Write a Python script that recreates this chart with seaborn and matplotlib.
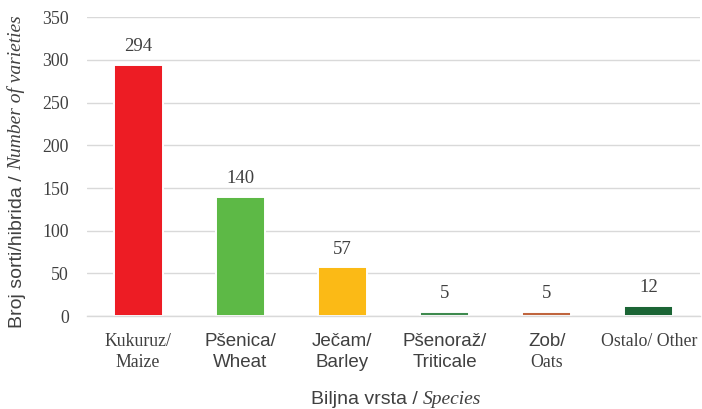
import numpy as np
import pandas as pd
import matplotlib
matplotlib.use("Agg")
import matplotlib.pyplot as plt
import matplotlib.transforms as mtransforms
import seaborn as sns

# data
species_top = ["Kukuruz/", "Pšenica/", "Ječam/", "Pšenoraž/", "Zob/", "Ostalo/ Other"]
species_bottom = ["Maize", "Wheat", "Barley", "Triticale", "Oats", ""]
counts = [294, 140, 57, 5, 5, 12]
bar_colors = ["#ED1C24", "#5DB946", "#FBBA16", "#3E8A4E", "#C0653E", "#1B6535"]
# which font each label line uses in the original (serif = Times-like)
top_font = ["serif", "sans", "sans", "sans", "sans", "serif"]
bottom_font = ["serif", "sans", "sans", "sans", "serif", "serif"]

SANS = "Liberation Sans"
SERIF = "Liberation Serif"
TXT = "#404040"
GRID = "#D9D9D9"

df = pd.DataFrame({"species": [a + b for a, b in zip(species_top, species_bottom)],
                   "count": counts})

sns.set_theme(style="white")
plt.rcParams["font.family"] = [SERIF, "DejaVu Serif"]

fig = plt.figure(figsize=(7.02, 4.09), dpi=100)
ax = fig.add_axes([0.124, 0.227, 0.873, 0.731])

sns.barplot(data=df, x="species", y="count", hue="species",
            palette=dict(zip(df["species"], bar_colors)), legend=False,
            width=0.48, edgecolor="white", linewidth=1.4, saturation=1, ax=ax)

for cont in ax.containers:
    ax.bar_label(cont, padding=7, fontsize=13.5, color=TXT, family=SERIF)

ax.set_ylim(0, 350)
ax.set_yticks(np.arange(0, 351, 50))
ax.set_xlim(-0.5, len(counts) - 0.5)
ax.yaxis.grid(True, color=GRID, linewidth=1)
ax.set_axisbelow(True)
for s in ["top", "right", "left"]:
    ax.spines[s].set_visible(False)
ax.spines["bottom"].set_color(GRID)
ax.spines["bottom"].set_linewidth(1)

ax.tick_params(axis="y", length=0, pad=13, labelsize=12.8, labelcolor=TXT)
for lab in ax.get_yticklabels():
    lab.set_family(SERIF)

# category tick labels drawn by hand because fonts are mixed
ax.set_xticks(np.arange(-0.5, len(counts), 1.0))
ax.set_xticklabels([])
ax.tick_params(axis="x", length=5, color=GRID, width=1)
ax.set_xlabel("")
ax.set_ylabel("")

trans = mtransforms.blended_transform_factory(ax.transData, ax.transAxes)
for i in range(len(counts)):
    serif1 = top_font[i] == "serif"
    ax.annotate(species_top[i], xy=(i, 0), xycoords=trans, xytext=(0, -12),
                textcoords="offset points", ha="center", va="top",
                fontsize=12.8 if serif1 else 13.5, color=TXT,
                family=SERIF if serif1 else SANS)
    if species_bottom[i]:
        serif2 = bottom_font[i] == "serif"
        ax.annotate(species_bottom[i], xy=(i, 0), xycoords=trans, xytext=(0, -27.5),
                    textcoords="offset points", ha="center", va="top",
                    fontsize=12.8 if serif2 else 13.5, color=TXT,
                    family=SERIF if serif2 else SANS)

fig.canvas.draw()
renderer = fig.canvas.get_renderer()

# y axis label: sans part + italic serif part
ya = fig.text(0, 0, "Broj sorti/hibrida / ", rotation=90, rotation_mode="anchor",
              ha="left", va="center", fontsize=14, color=TXT, family=SANS)
yb = fig.text(0, 0, "Number of varieties", rotation=90, rotation_mode="anchor",
              ha="left", va="center", fontsize=14, color=TXT, family=SERIF,
              style="italic")
ha_ = ya.get_window_extent(renderer).height
hb_ = yb.get_window_extent(renderer).height
H = fig.bbox.height
yc = H - 172
y0 = yc - (ha_ + hb_) / 2
ya.set_position((18 / fig.bbox.width, y0 / H))
yb.set_position((16 / fig.bbox.width, (y0 + ha_) / H))

# x axis label
xa = fig.text(0, 0, "Biljna vrsta / ", ha="left", va="baseline",
              fontsize=14, color=TXT, family=SANS)
xb = fig.text(0, 0, "Species", ha="left", va="baseline",
              fontsize=14, color=TXT, family=SERIF, style="italic")
wa = xa.get_window_extent(renderer).width
wb = xb.get_window_extent(renderer).width
W = fig.bbox.width
x0 = 396 - (wa + wb) / 2
xa.set_position((x0 / W, 5 / H))
xb.set_position(((x0 + wa) / W, 5 / H))

fig.savefig("out.png", dpi=100, facecolor="white")
